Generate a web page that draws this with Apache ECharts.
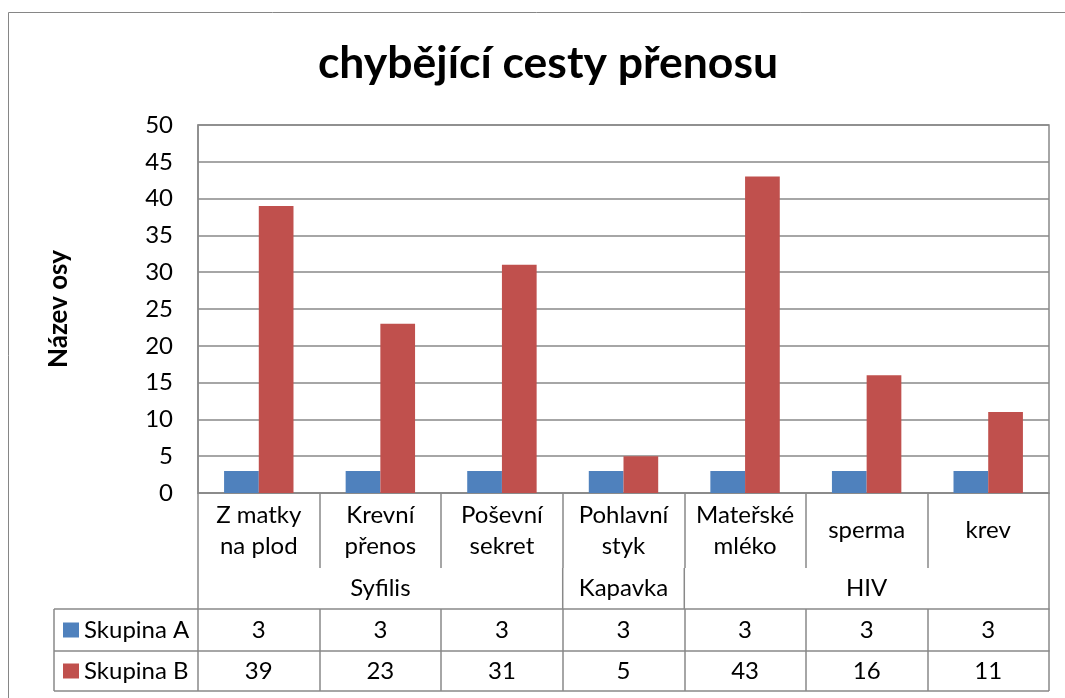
<!DOCTYPE html>
<html><head><meta charset="utf-8">
<script src="https://cdn.jsdelivr.net/npm/echarts@6/dist/echarts.min.js"></script>
<style>html,body{margin:0;padding:0;background:#fff;overflow:hidden}#c{width:1065px;height:698px}</style>
</head><body><div id="c"></div>
<script>
const titleText = 'chybějící cesty přenosu';
const yAxisTitle = 'Název osy';
const categories = ['Z matky\nna plod', 'Krevní\npřenos', 'Poševní\nsekret', 'Pohlavní\nstyk', 'Mateřské\nmléko', 'sperma', 'krev'];
const groups = ['Syfilis', 'Kapavka', 'HIV'];
const groupSpans = [3, 1, 3];
const seriesNames = ['Skupina A', 'Skupina B'];
const skupinaA = [3, 3, 3, 3, 3, 3, 3];
const skupinaB = [39, 23, 31, 5, 43, 16, 11];
const yMin = 0, yMax = 50, yStep = 5;

const FONT = 'Lato';
const LINE = '#898989';
const colors = ['#4f81bd', '#c0504d'];
const lineStyle = { color: LINE, width: 1.5 };

const chart = echarts.init(document.getElementById('c'), null, { renderer: 'canvas' });

const rowCat = 75, rowGroup = 116, rowA = 158, rowB = 198;

const option = {
  animation: false,
  color: colors,
  textStyle: { fontFamily: FONT, color: '#000' },
  title: {
    text: titleText, left: 543, top: 36, textAlign: 'center',
    textStyle: { fontFamily: FONT, fontSize: 44.5, fontWeight: 'bold', color: '#000' }
  },
  legend: {
    orient: 'vertical', left: 63, top: 615, itemWidth: 16, itemHeight: 15, itemGap: 11, padding: 0,
    icon: 'rect', data: seriesNames,
    textStyle: { fontFamily: FONT, fontSize: 24, lineHeight: 30, color: '#000' }
  },
  grid: { left: 198, right: 16, top: 125, bottom: 205, show: true, borderColor: LINE, borderWidth: 1.5, outerBoundsMode: 'none', containLabel: false },
  xAxis: [
    {
      type: 'category', data: categories, position: 'bottom',
      axisLine: { show: true, lineStyle },
      axisTick: { show: true, interval: 0, length: rowCat, lineStyle },
      axisLabel: { interval: 0, fontFamily: FONT, fontSize: 24, lineHeight: 31, color: '#000', verticalAlign: 'middle', margin: rowCat / 2 },
      splitLine: { show: false }
    },
    {
      type: 'category', data: categories, position: 'bottom', offset: rowGroup,
      axisLine: { show: true, lineStyle },
      axisTick: { show: true, interval: 0, length: rowA - rowGroup, lineStyle },
      axisLabel: { interval: 0, fontFamily: FONT, fontSize: 24, color: '#000', verticalAlign: 'middle', margin: (rowA - rowGroup) / 2,
        formatter: (v, i) => String(skupinaA[i]) },
      splitLine: { show: false }
    },
    {
      type: 'category', data: categories, position: 'bottom', offset: rowA,
      axisLine: { show: true, lineStyle },
      axisTick: { show: true, interval: 0, length: rowB - rowA, lineStyle },
      axisLabel: { interval: 0, fontFamily: FONT, fontSize: 24, color: '#000', verticalAlign: 'middle', margin: (rowB - rowA) / 2,
        formatter: (v, i) => String(skupinaB[i]) },
      splitLine: { show: false }
    }
  ],
  yAxis: {
    type: 'value', min: yMin, max: yMax, interval: yStep,
    name: yAxisTitle, nameLocation: 'middle', nameRotate: 90, nameGap: 126,
    nameTextStyle: { fontFamily: FONT, fontSize: 26, fontWeight: 'bold', color: '#000' },
    axisLine: { show: true, lineStyle },
    axisTick: { show: false },
    axisLabel: { fontFamily: FONT, fontSize: 24, color: '#000', margin: 25 },
    splitLine: { show: true, lineStyle }
  },
  series: [
    { name: seriesNames[0], type: 'bar', data: skupinaA, barGap: '0%', barCategoryGap: '42.9%', itemStyle: { color: colors[0] } },
    { name: seriesNames[1], type: 'bar', data: skupinaB, barGap: '0%', barCategoryGap: '42.9%', itemStyle: { color: colors[1] } }
  ]
};
chart.setOption(option);

// merged group cells and the table's legend column, placed from the axis scales
const c0 = chart.convertToPixel({ xAxisIndex: 0 }, 0);
const c1 = chart.convertToPixel({ xAxisIndex: 0 }, 1);
const band = c1 - c0;
const bound = i => c0 - band / 2 + i * band;
const yb = chart.convertToPixel({ yAxisIndex: 0 }, 0);
const tableLeft = 54;
const els = [];
const ln = (x1, y1, x2, y2, stroke, w) => els.push({ type: 'line', shape: { x1, y1, x2, y2 }, style: { stroke: stroke || LINE, lineWidth: w || 1.5 }, silent: true });
let start = 0;
const gBounds = [0];
groupSpans.forEach((s, gi) => {
  const end = start + s;
  els.push({ type: 'text', x: (bound(start) + bound(end)) / 2, y: yb + (rowCat + rowGroup) / 2,
    style: { text: groups[gi], font: '24px ' + FONT, fill: '#000', align: 'center', verticalAlign: 'middle' }, silent: true });
  gBounds.push(end);
  start = end;
});
gBounds.forEach(i => ln(bound(i), yb + rowCat, bound(i), yb + rowGroup));
ln(tableLeft, yb + rowGroup, bound(0), yb + rowGroup);
ln(tableLeft, yb + rowA, bound(0), yb + rowA);
ln(tableLeft, yb + rowB, bound(categories.length), yb + rowB);
ln(tableLeft, yb + rowGroup, tableLeft, yb + rowB);
// outer chart-area border (top and left edges visible)
ln(8.5, 12.5, 1065, 12.5, '#868686', 1);
ln(8.5, 12.5, 8.5, 698, '#868686', 1);
chart.setOption({ graphic: els });
</script>
</body></html>
